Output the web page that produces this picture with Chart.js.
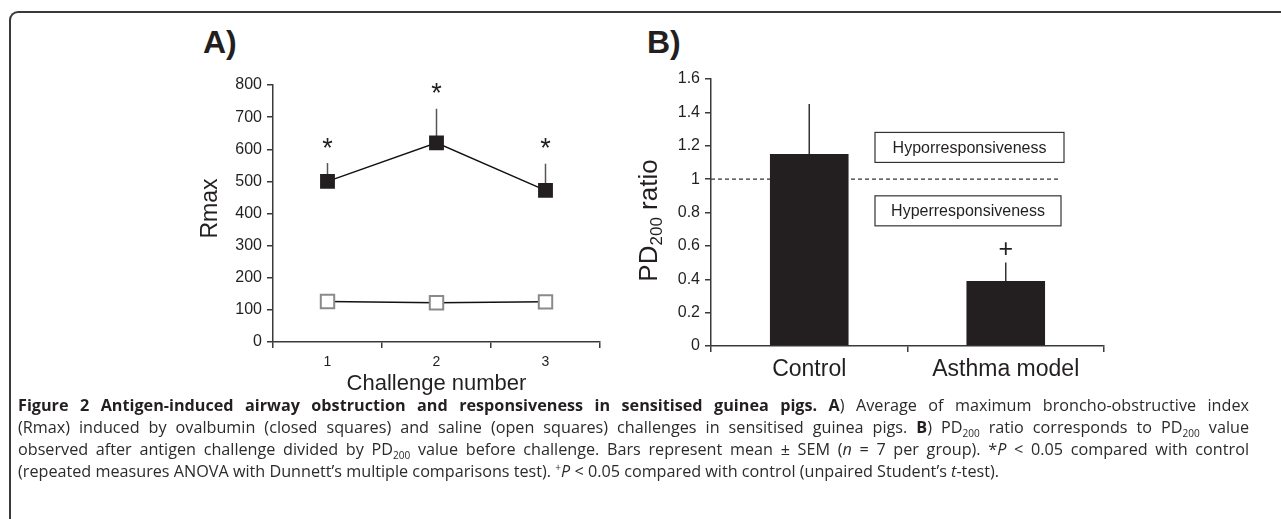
<!DOCTYPE html>
<html>
<head>
<meta charset="utf-8">
<script src="https://cdn.jsdelivr.net/npm/chart.js@4.4.1/dist/chart.umd.min.js"></script>
<style>
  html, body { margin: 0; padding: 0; background: #fff; }
  body { width: 1281px; height: 519px; position: relative; overflow: hidden; }
  .frame {
    position: absolute; left: 9px; top: 11px; width: 1300px; height: 540px;
    border-left: 2px solid #3a3a3a; border-top: 2px solid #3a3a3a;
    border-top-left-radius: 9px;
  }
  .panel {
    position: absolute; font-family: "Liberation Sans", Arial, sans-serif;
    font-weight: bold; font-size: 32px; color: #231f20; top: 24px;
  }
  canvas { position: absolute; }
  #caption {
    position: absolute; left: 18px; top: 394px; width: 1231px;
    font-family: "Open Sans", sans-serif; font-size: 16.2px; color: #2b2b2b;
    line-height: 22px; letter-spacing: 0;
  }
  #caption div { white-space: nowrap; text-align: justify; text-align-last: justify; }
  #caption div.last { text-align-last: left; }
  #caption b { color: #231f20; }
  sub, sup { font-size: 62%; line-height: 0; }
</style>
</head>
<body>
<div class="frame"></div>
<div class="panel" style="left:203px">A)</div>
<div class="panel" style="left:647px">B)</div>
<canvas id="chartA" width="470" height="340" style="left:150px;top:60px"></canvas>
<canvas id="chartB" width="500" height="340" style="left:620px;top:60px"></canvas>
<div id="caption">
  <div><b>Figure 2 Antigen-induced airway obstruction and responsiveness in sensitised guinea pigs. A</b>) Average of maximum broncho-obstructive index</div>
  <div>(Rmax) induced by ovalbumin (closed squares) and saline (open squares) challenges in sensitised guinea pigs. <b>B</b>) PD<sub>200</sub> ratio corresponds to PD<sub>200</sub> value</div>
  <div>observed after antigen challenge divided by PD<sub>200</sub> value before challenge. Bars represent mean ± SEM (<i>n</i> = 7 per group). *<i>P</i> &lt; 0.05 compared with control</div>
  <div class="last">(repeated measures ANOVA with Dunnett’s multiple comparisons test). <sup>+</sup><i>P</i> &lt; 0.05 compared with control (unpaired Student’s <i>t</i>-test).</div>
</div>
<script>
// panel A: Rmax per challenge
const challenges = ["1", "2", "3"];
const ovalbumin = [500, 620, 472];
const ovalbuminSem = [57, 106, 83];
const ovalbuminMarks = ["*", "*", "*"];
const saline = [126, 122, 125];
const rmaxTicks = [0, 100, 200, 300, 400, 500, 600, 700, 800];

// panel B: PD200 ratio
const groups = ["Control", "Asthma model"];
const pdRatio = [1.15, 0.39];
const pdSem = [0.30, 0.11];
const pdMarks = ["", "+"];
const pdTicks = [0, 0.2, 0.4, 0.6, 0.8, 1, 1.2, 1.4, 1.6];
const thresholdValue = 1;

const INK = "#231f20";
const FONT = "'Liberation Sans', Arial, sans-serif";

function axisStyle(extra) {
  return Object.assign({
    grid: { drawOnChartArea: false, drawTicks: true, tickLength: 6, color: "#3a3a3a", lineWidth: 1.5 },
    border: { display: true, color: "#3a3a3a", width: 1.5 },
  }, extra);
}

// error bars + significance marks, drawn from data through the scales
function errorPlugin(values, sems, marks, color, markFont, markGap) {
  return {
    id: "errs",
    beforeDatasetsDraw(chart) {
      const ctx = chart.ctx, x = chart.scales.x, y = chart.scales.y;
      ctx.save();
      ctx.strokeStyle = color;
      ctx.lineWidth = 1.5;
      values.forEach((v, i) => {
        const px = x.getPixelForValue(i);
        ctx.beginPath();
        ctx.moveTo(px, y.getPixelForValue(v));
        ctx.lineTo(px, y.getPixelForValue(v + sems[i]));
        ctx.stroke();
      });
      ctx.restore();
    },
    afterDatasetsDraw(chart) {
      const ctx = chart.ctx, x = chart.scales.x, y = chart.scales.y;
      ctx.save();
      ctx.fillStyle = INK;
      ctx.font = markFont;
      ctx.textAlign = "center";
      ctx.textBaseline = "middle";
      values.forEach((v, i) => {
        if (!marks[i]) return;
        ctx.fillText(marks[i], x.getPixelForValue(i), y.getPixelForValue(v + sems[i]) - markGap);
      });
      ctx.restore();
    },
  };
}

const titlesA = {
  id: "titlesA",
  afterDraw(chart) {
    const ctx = chart.ctx, a = chart.chartArea;
    ctx.save();
    ctx.fillStyle = INK;
    ctx.font = "22px " + FONT;
    ctx.textAlign = "center";
    ctx.textBaseline = "middle";
    ctx.fillText("Challenge number", (a.left + a.right) / 2, a.bottom + 42);
    ctx.translate(a.left - 62, (a.top + a.bottom) / 2 - 5);
    ctx.rotate(-Math.PI / 2);
    ctx.font = "23px " + FONT;
    ctx.fillText("Rmax", 0, 0);
    ctx.restore();
  },
};

new Chart(document.getElementById("chartA"), {
  type: "line",
  data: {
    labels: challenges,
    datasets: [
      {
        label: "Ovalbumin",
        data: ovalbumin,
        borderColor: "#111",
        borderWidth: 1.5,
        pointStyle: "rect",
        pointRadius: 10.5,
        pointBackgroundColor: INK,
        pointBorderColor: INK,
        pointBorderWidth: 0,
      },
      {
        label: "Saline",
        data: saline,
        borderColor: "#111",
        borderWidth: 1.5,
        pointStyle: "rect",
        pointRadius: 9.5,
        pointBackgroundColor: "#fff",
        pointBorderColor: "#8a8a8a",
        pointBorderWidth: 2,
      },
    ],
  },
  options: {
    responsive: false,
    animation: false,
    layout: { padding: { top: 25, right: 20, left: 0, bottom: 0 } },
    plugins: { legend: { display: false }, tooltip: { enabled: false } },
    scales: {
      x: axisStyle({
        offset: true,
        grid: { offset: true, drawOnChartArea: false, drawTicks: true, tickLength: 6, color: "#3a3a3a", lineWidth: 1.5 },
        ticks: { color: INK, font: { family: FONT, size: 14 }, padding: 6 },
        afterFit: (s) => { s.height = 58; },
      }),
      y: axisStyle({
        min: rmaxTicks[0],
        max: rmaxTicks[rmaxTicks.length - 1],
        afterBuildTicks: (s) => { s.ticks = rmaxTicks.map((v) => ({ value: v })); },
        ticks: { color: INK, font: { family: FONT, size: 16 }, padding: 5 },
        afterFit: (s) => { s.width = 123; },
      }),
    },
  },
  plugins: [errorPlugin(ovalbumin, ovalbuminSem, ovalbuminMarks, "#555", "27px " + FONT, 14), titlesA],
});

const extrasB = {
  id: "extrasB",
  beforeDatasetsDraw(chart) {
    const ctx = chart.ctx, a = chart.chartArea, y = chart.scales.y;
    const py = y.getPixelForValue(thresholdValue);
    ctx.save();
    ctx.strokeStyle = "#333";
    ctx.lineWidth = 1.2;
    ctx.setLineDash([4, 3]);
    ctx.beginPath();
    ctx.moveTo(a.left, py);
    ctx.lineTo(a.right - 44, py);
    ctx.stroke();
    ctx.restore();
  },
  afterDraw(chart) {
    const ctx = chart.ctx, a = chart.chartArea, y = chart.scales.y;
    ctx.save();
    // labelled boxes either side of the threshold
    const boxes = [
      { text: "Hyporresponsiveness", value: thresholdValue + 0.19, w: 189 },
      { text: "Hyperresponsiveness", value: thresholdValue - 0.19, w: 186 },
    ];
    ctx.font = "16px " + FONT;
    ctx.textAlign = "center";
    ctx.textBaseline = "middle";
    boxes.forEach((b) => {
      const cy = y.getPixelForValue(b.value);
      const bx = a.left + 164;
      ctx.fillStyle = "#fff";
      ctx.fillRect(bx, cy - 15, b.w, 30);
      ctx.strokeStyle = "#333";
      ctx.lineWidth = 1.2;
      ctx.strokeRect(bx, cy - 15, b.w, 30);
      ctx.fillStyle = INK;
      ctx.fillText(b.text, bx + b.w / 2, cy + 1);
    });
    // y title with subscript
    ctx.translate(a.left - 63, (a.top + a.bottom) / 2 + 8);
    ctx.rotate(-Math.PI / 2);
    ctx.textAlign = "left";
    ctx.textBaseline = "alphabetic";
    const big = "26px " + FONT, small = "17px " + FONT;
    ctx.font = big; const w1 = ctx.measureText("PD").width;
    ctx.font = small; const w2 = ctx.measureText("200").width;
    ctx.font = big; const w3 = ctx.measureText(" ratio").width;
    let x0 = -(w1 + w2 + w3) / 2;
    const base = 9;
    ctx.font = big; ctx.fillText("PD", x0, base); x0 += w1;
    ctx.font = small; ctx.fillText("200", x0, base + 5); x0 += w2;
    ctx.font = big; ctx.fillText(" ratio", x0, base);
    ctx.restore();
  },
};

new Chart(document.getElementById("chartB"), {
  type: "bar",
  data: {
    labels: groups,
    datasets: [
      {
        label: "PD200 ratio",
        data: pdRatio,
        backgroundColor: INK,
        borderWidth: 0,
        categoryPercentage: 1,
        barPercentage: 0.4,
      },
    ],
  },
  options: {
    responsive: false,
    animation: false,
    layout: { padding: { top: 19, right: 16, left: 0, bottom: 0 } },
    plugins: { legend: { display: false }, tooltip: { enabled: false } },
    scales: {
      x: axisStyle({
        grid: { offset: true, drawOnChartArea: false, drawTicks: true, tickLength: 6, color: "#3a3a3a", lineWidth: 1.5 },
        ticks: { color: INK, font: { family: FONT, size: 23 }, padding: 4 },
        afterFit: (s) => { s.height = 54; },
      }),
      y: axisStyle({
        min: pdTicks[0],
        max: pdTicks[pdTicks.length - 1],
        afterBuildTicks: (s) => { s.ticks = pdTicks.map((v) => ({ value: v })); },
        ticks: { color: INK, font: { family: FONT, size: 16 }, padding: 5, callback: (v) => String(+v.toFixed(1)) },
        afterFit: (s) => { s.width = 91; },
      }),
    },
  },
  plugins: [errorPlugin(pdRatio, pdSem, pdMarks, "#333", "25px " + FONT, 12), extrasB],
});
</script>
</body>
</html>
